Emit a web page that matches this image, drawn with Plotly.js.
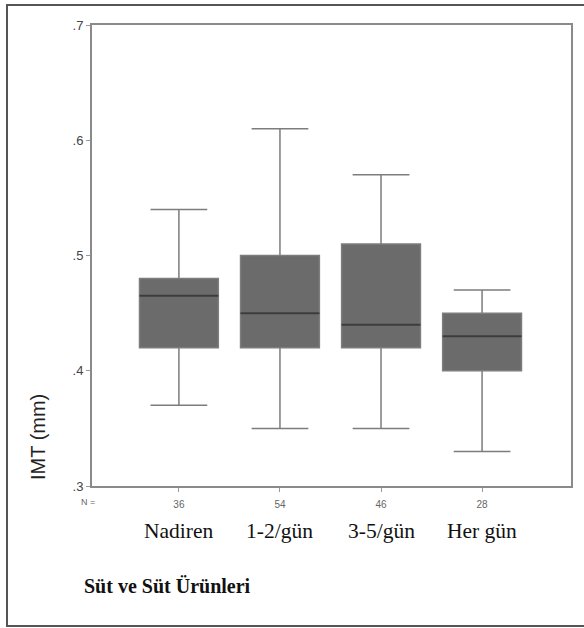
<!DOCTYPE html>
<html>
<head>
<meta charset="utf-8">
<script src="https://cdn.plot.ly/plotly-3.0.1.min.js"></script>
<style>html,body{margin:0;padding:0;background:#fff;}#chart{width:584px;height:628px;}</style>
</head>
<body>
<div id="chart"></div>
<script>
// Data
const categories = ["Nadiren", "1-2/gün", "3-5/gün", "Her gün"];
const counts = ["36", "54", "46", "28"];
const lowerWhisker = [0.37, 0.35, 0.35, 0.33];
const q1Values = [0.42, 0.42, 0.42, 0.40];
const medianValues = [0.465, 0.45, 0.44, 0.43];
const q3Values = [0.48, 0.50, 0.51, 0.45];
const upperWhisker = [0.54, 0.61, 0.57, 0.47];
const yTickValues = [0.3, 0.4, 0.5, 0.6, 0.7];
const yTickLabels = [".3", ".4", ".5", ".6", ".7"];
const yAxisTitle = "IMT (mm)";
const xAxisTitle = "Süt ve Süt Ürünleri";
const countLabel = "N =";

const xIdx = categories.map((c, i) => i);

const boxes = {
  type: "box",
  x: xIdx,
  q1: q1Values,
  median: medianValues,
  q3: q3Values,
  lowerfence: lowerWhisker,
  upperfence: upperWhisker,
  width: 0.78,
  whiskerwidth: 0.72,
  fillcolor: "#6b6b6b",
  line: {color: "#7d7d7d", width: 1.5},
  hoverinfo: "skip",
  showlegend: false
};

const medians = {
  type: "box",
  x: xIdx,
  q1: medianValues,
  median: medianValues,
  q3: medianValues,
  lowerfence: medianValues,
  upperfence: medianValues,
  width: 0.78,
  whiskerwidth: 0,
  fillcolor: "rgba(0,0,0,0)",
  line: {color: "#3c3c3c", width: 2},
  hoverinfo: "skip",
  showlegend: false
};

const W = 584, H = 628;
const L = 92, R = 13, T = 25, B = 142;
const pw = W - L - R, ph = H - T - B;
const px = x => (x - L) / pw;
const py = y => (H - B - y) / ph;

const annotations = categories.map((c, i) => ({
  x: i, xref: "x", y: py(531), yref: "paper",
  text: c, showarrow: false, xanchor: "center", yanchor: "middle",
  font: {family: "Liberation Serif, serif", size: 21.5, color: "#111"}
}));
annotations.push({
  x: px(88), xref: "paper", y: py(502), yref: "paper",
  text: countLabel, showarrow: false, xanchor: "center", yanchor: "middle",
  font: {family: "Liberation Sans, Arial, sans-serif", size: 9, color: "#666"}
});
annotations.push({
  x: px(82), xref: "paper", y: py(586), yref: "paper",
  text: "<b>" + xAxisTitle + "</b>", showarrow: false, xanchor: "left", yanchor: "middle",
  font: {family: "Liberation Serif, serif", size: 20, color: "#111"}
});
annotations.push({
  x: px(38), xref: "paper", y: py(437), yref: "paper",
  text: yAxisTitle, textangle: -90, showarrow: false, xanchor: "center", yanchor: "middle",
  font: {family: "Liberation Sans, Arial, sans-serif", size: 20, color: "#222"}
});

const fx0 = px(7), fx1 = px(640), fy0 = py(626), fy1 = py(5);

const layout = {
  width: W, height: H,
  margin: {l: L, r: R, t: T, b: B, pad: 0},
  paper_bgcolor: "#ffffff",
  plot_bgcolor: "#ffffff",
  boxmode: "overlay",
  showlegend: false,
  xaxis: {
    range: [-0.86, 3.88],
    tickmode: "array",
    tickvals: xIdx,
    ticktext: counts,
    ticks: "outside", ticklen: 4, tickcolor: "#999", tickwidth: 1,
    ticklabelstandoff: 4,
    tickfont: {family: "Liberation Sans, Arial, sans-serif", size: 10, color: "#666"},
    showline: true, linecolor: "#8a8a8a", linewidth: 2, mirror: true,
    showgrid: false, zeroline: false, fixedrange: true
  },
  yaxis: {
    range: [0.3, 0.7],
    tickmode: "array",
    tickvals: yTickValues,
    ticktext: yTickLabels,
    ticks: "outside", ticklen: 4, tickcolor: "#999", tickwidth: 1,
    tickfont: {family: "Liberation Sans, Arial, sans-serif", size: 13, color: "#444"},
    showline: true, linecolor: "#8a8a8a", linewidth: 2, mirror: true,
    showgrid: false, zeroline: false, fixedrange: true
  },
  annotations: annotations,
  shapes: [{
    type: "path", xref: "paper", yref: "paper",
    path: `M ${fx1},${fy1} L ${fx0},${fy1} L ${fx0},${fy0} L ${fx1},${fy0}`,
    line: {color: "#555", width: 2}, layer: "below"
  }]
};

Plotly.newPlot("chart", [boxes, medians], layout, {displayModeBar: false, staticPlot: true});
</script>
</body>
</html>
